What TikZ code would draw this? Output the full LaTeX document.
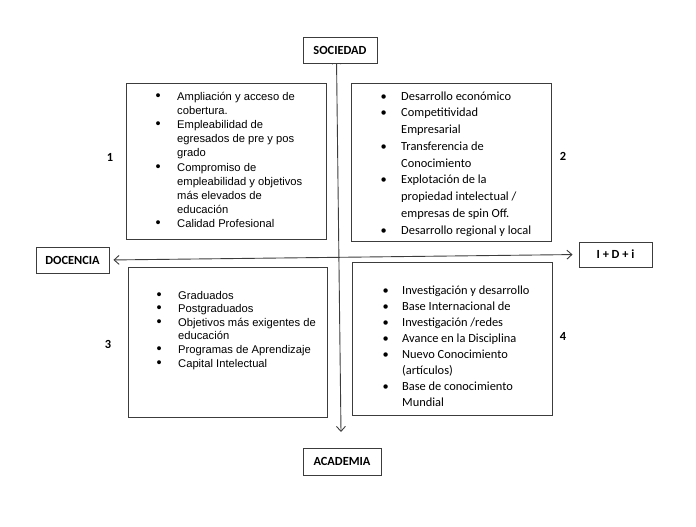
\documentclass[tikz,border=0pt]{standalone}
\usepackage{fontspec}
\setmainfont{Liberation Sans}
\newfontfamily\calib{Carlito}
\usetikzlibrary{arrows.meta,backgrounds}
\definecolor{linec}{HTML}{3C3C3C}
\newcommand{\abul}{{\fontsize{14.5}{14}\selectfont\textbullet}}
\tikzset{
  panel/.style={draw=linec, line width=0.9pt, fill=white, inner sep=0pt},
  axislabel/.style={draw=linec, line width=0.9pt, fill=white, inner sep=0pt, font=\calib\bfseries\fontsize{12.4}{14}\selectfont},
  numlabel/.style={inner sep=0pt, font=\calib\bfseries\fontsize{12.4}{14}\selectfont},
  arialtext/.style={inner sep=0pt, anchor=base west, align=left},
  calibtext/.style={inner sep=0pt, anchor=base west, align=left},
  axis/.style={draw=linec, line width=0.9pt, {Straight Barb[length=5pt,width=9pt]}-{Straight Barb[length=5pt,width=9pt]}}
}
\begin{document}
\begin{tikzpicture}[x=1pt,y=-1pt]
\useasboundingbox (0,0) rectangle (696,527);
% axis labels
\node[axislabel, minimum width=74pt, minimum height=26pt] (soc) at (340,50) {SOCIEDAD};
\node[axislabel, minimum width=73pt, minimum height=26pt] (doc) at (72.5,260) {DOCENCIA};
\node[axislabel, minimum width=73pt, minimum height=25pt] (idi) at (615.5,254.5) {I + D + i};
\node[axislabel, minimum width=78pt, minimum height=27pt] (aca) at (342,461.5) {ACADEMIA};
% panels
\node[panel, minimum width=200pt, minimum height=156pt] (b1) at (226,161) {};
\node[panel, minimum width=200pt, minimum height=158pt] (b2) at (451,162) {};
\node[panel, minimum width=199pt, minimum height=150pt] (b3) at (227.5,342) {};
\node[panel, minimum width=200pt, minimum height=153pt] (b4) at (452,338.5) {};
% axes behind
\coordinate (vtop) at (336.5,58.5);
\coordinate (vbot) at (341,432);
\begin{scope}[on background layer]
\draw[axis] (vbot) -- (vtop);
\draw[axis, shorten <=4pt, shorten >=6pt] (doc.east) -- (idi.west);
\end{scope}
% panel texts
\node[arialtext, font=\fontsize{11.2}{14.2}\selectfont] (t1) at (155.5,100) {%
\begin{tabular}[t]{@{}p{21.5pt}@{}l@{}}
\abul & Ampliación y acceso de\\
 & cobertura.\\
\abul & Empleabilidad de\\
 & egresados de pre y pos\\
 & grado\\
\abul & Compromiso de\\
 & empleabilidad y objetivos\\
 & más elevados de\\
 & educación\\
\abul & Calidad Profesional
\end{tabular}};
\node[calibtext, font=\calib\fontsize{12.4}{16.75}\selectfont] (t2) at (380.5,100) {%
\begin{tabular}[t]{@{}p{20.5pt}@{}l@{}}
\textbullet & Desarrollo económico\\
\textbullet & Competitividad\\
 & Empresarial\\
\textbullet & Transferencia de\\
 & Conocimiento\\
\textbullet & Explotación de la\\
 & propiedad intelectual /\\
 & empresas de spin Off.\\
\textbullet & Desarrollo regional y local
\end{tabular}};
\node[arialtext, font=\fontsize{11.2}{13.6}\selectfont] (t3) at (156.5,299) {%
\begin{tabular}[t]{@{}p{21.5pt}@{}l@{}}
\abul & Graduados\\
\abul & Postgraduados\\
\abul & Objetivos más exigentes de\\
 & educación\\
\abul & Programas de Aprendizaje\\
\abul & Capital Intelectual
\end{tabular}};
\node[calibtext, font=\calib\fontsize{12.4}{16}\selectfont] (t4) at (382.5,294.5) {%
\begin{tabular}[t]{@{}p{19.5pt}@{}l@{}}
\textbullet & Investigación y desarrollo\\
\textbullet & Base Internacional de\\
\textbullet & Investigación /redes\\
\textbullet & Avance en la Disciplina\\
\textbullet & Nuevo Conocimiento\\
 & (artículos)\\
\textbullet & Base de conocimiento\\
 & Mundial
\end{tabular}};
% quadrant numbers
\node[numlabel] (n1) at (110,157) {1};
\node[numlabel] (n2) at (563,156) {2};
\node[numlabel] (n3) at (108,344) {3};
\node[numlabel] (n4) at (563,336) {4};
\end{tikzpicture}
\end{document}
